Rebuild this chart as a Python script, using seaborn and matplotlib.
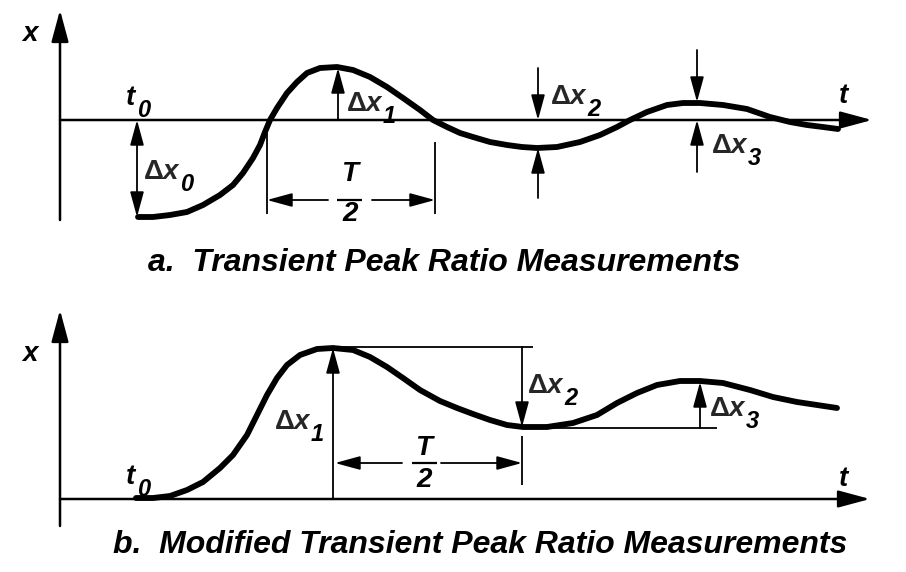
import numpy as np
import pandas as pd
import matplotlib
matplotlib.use("Agg")
import matplotlib.pyplot as plt
import seaborn as sns

sns.set_style("white")
plt.rcParams["font.family"] = ["Liberation Sans", "DejaVu Sans"]
plt.rcParams["mathtext.fontset"] = "custom"
plt.rcParams["mathtext.rm"] = "Liberation Sans:bold"
plt.rcParams["mathtext.it"] = "Liberation Sans:bold:italic"
plt.rcParams["mathtext.bf"] = "Liberation Sans:bold"

# curves (pixel coordinates, y down)
a_t = [138, 153, 170, 187, 203, 220, 233, 243, 253, 260, 265, 270, 277, 287, 297,
       307, 320, 337, 353, 370, 387, 403, 420, 433, 447, 460, 473, 490, 507, 522,
       537, 557, 580, 600, 617, 630, 647, 667, 683, 700, 723, 747, 770, 790, 807,
       823, 838]
a_x = [217, 217, 215, 212, 205, 195, 185, 173, 158, 145, 132, 120, 108, 93, 82,
       73, 68, 67, 70, 77, 87, 98, 110, 120, 127, 133, 137, 142, 145, 147,
       148, 147, 142, 135, 127, 120, 112, 105, 103, 103, 105, 109, 117, 122, 125,
       127, 129]

b_t = [136, 153, 170, 187, 203, 220, 233, 247, 257, 267, 277, 287, 300, 317, 333,
       353, 370, 387, 403, 420, 440, 457, 473, 490, 507, 523, 547, 573, 597, 617,
       637, 657, 680, 700, 723, 750, 773, 797, 817, 837]
b_x = [498, 498, 496, 490, 482, 468, 455, 435, 415, 395, 378, 365, 355, 349, 348,
       350, 357, 367, 378, 390, 401, 408, 414, 420, 425, 427, 427, 423, 415, 403,
       393, 385, 381, 381, 383, 390, 397, 402, 405, 408]

# axes (origin x, axis y, top of x-arrow, bottom of vertical, end of t-arrow)
a_axes = dict(x0=60, y0=120, top=10, bottom=220, right=872)
b_axes = dict(x0=60, y0=499, top=310, bottom=526, right=870)

captions = ["a.  Transient Peak Ratio Measurements",
            "b.  Modified Transient Peak Ratio Measurements"]

fig = plt.figure(figsize=(9.06, 5.72), dpi=100)
ax = fig.add_axes([0, 0, 1, 1])

df = pd.concat([
    pd.DataFrame({"t": a_t, "x": a_x, "panel": "a"}),
    pd.DataFrame({"t": b_t, "x": b_x, "panel": "b"}),
])
sns.lineplot(data=df, x="t", y="x", units="panel", estimator=None, sort=False,
             color="black", linewidth=4.2, solid_capstyle="round",
             solid_joinstyle="round", ax=ax)

ax.set_xlim(0, 906)
ax.set_ylim(572, 0)
ax.axis("off")

ARW = dict(arrowstyle="-|>,head_length=1.1,head_width=0.3", color="black",
           lw=1.3, shrinkA=0, shrinkB=0, mutation_scale=14)
BIG = dict(arrowstyle="-|>,head_length=1.3,head_width=0.35", color="black",
           lw=1.8, shrinkA=0, shrinkB=0, mutation_scale=15)


def arrow(x1, y1, x2, y2, style=ARW):
    ax.annotate("", xy=(x2, y2), xytext=(x1, y1), arrowprops=style)


def line(xs, ys, lw=1.3):
    ax.plot(xs, ys, color="black", lw=lw, solid_capstyle="butt")


BI = dict(fontweight="bold", style="italic", color="black")


def label(x, y, main, sub, size=20, dx=-1):
    # main text with its baseline at y, subscript hung off its right edge
    if main.startswith("$"):
        t = ax.text(x, y, main, fontsize=size, ha="left", va="baseline")
    else:
        t = ax.text(x, y, main, fontsize=size, ha="left", va="baseline", **BI)
    ax.annotate(sub, xy=(1, 0), xycoords=t, xytext=(dx, -4),
                textcoords="offset points", fontsize=size - 3,
                ha="left", va="baseline", **BI)


def big(x, y, s, size=20):
    ax.text(x, y, s, fontsize=size, ha="center", va="center", **BI)


for A in (a_axes, b_axes):
    arrow(A["x0"], A["bottom"], A["x0"], A["top"], BIG)
    arrow(A["x0"], A["y0"], A["right"], A["y0"], BIG)

# ---- panel a
big(30, 34, "x")
label(126, 105, "t", "0", dx=1)
big(843, 96, "t")

ax.annotate("", xy=(137, 217), xytext=(137, 120),
            arrowprops=dict(ARW, arrowstyle="<|-|>,head_length=1.1,head_width=0.3"))
label(143, 179, r"$\Delta x$", "0")

arrow(338, 120, 338, 68)
label(346, 111, r"$\Delta x$", "1")

line([267, 267], [133, 214])
line([435, 435], [142, 214])
arrow(328, 200, 267, 200)
arrow(372, 200, 435, 200)
line([337, 362], [200, 200], lw=1.6)
big(350, 174, "T")
big(350, 214, "2")

arrow(538, 68, 538, 120)
arrow(538, 198, 538, 148)
label(550, 104, r"$\Delta x$", "2")

arrow(697, 50, 697, 102)
arrow(697, 172, 697, 120)
label(711, 153, r"$\Delta x$", "3")

ax.text(444, 263, captions[0], fontsize=23, ha="center", va="center", **BI)

# ---- panel b
big(30, 354, "x")
label(126, 484, "t", "0", dx=1)
big(843, 479, "t")

line([333, 533], [347, 347])
arrow(333, 499, 333, 348)
label(274, 429, r"$\Delta x$", "1")

arrow(522, 347, 522, 427)
line([522, 522], [436, 485])
label(527, 393, r"$\Delta x$", "2")

arrow(402, 463, 335, 463)
arrow(441, 463, 522, 463)
line([412, 437], [463, 463], lw=1.6)
big(424, 448, "T")
big(424, 480, "2")

line([522, 717], [428, 428])
arrow(700, 428, 700, 382)
label(709, 416, r"$\Delta x$", "3")

ax.text(480, 545, captions[1], fontsize=23, ha="center", va="center", **BI)

fig.savefig("out.png", dpi=100)
